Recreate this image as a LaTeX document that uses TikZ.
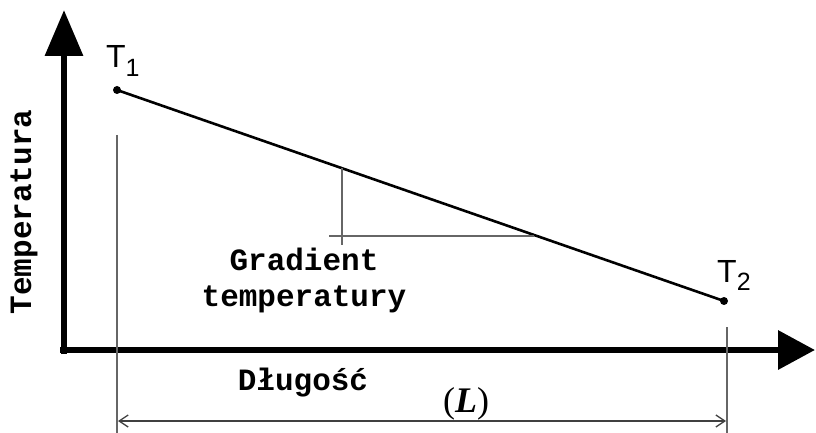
\documentclass[tikz,border=0pt]{standalone}
\usepackage{fontspec}
\setmainfont{Liberation Serif}
\newfontfamily\monofont{Liberation Mono}
\newfontfamily\arialfont{Liberation Sans}
\usetikzlibrary{arrows.meta}
\begin{document}
\begin{tikzpicture}[x=1pt,y=-1pt,
  yaxis/.style={line width=6.5pt,-{Triangle[length=46pt,width=37pt]}},
  xaxis/.style={line width=6.5pt,-{Triangle[length=37pt,width=38pt]}},
  thin gray/.style={draw=black!60,line width=1.4pt},
  mainline/.style={line width=2.6pt},
  dimline/.style={draw=black!75,line width=1.3pt,{Straight Barb[length=9pt,width=12pt]}-{Straight Barb[length=9pt,width=12pt]}},
  lbl/.style={font=\monofont\bfseries\fontsize{31}{36}\selectfont,inner sep=0pt,align=center},
  tlbl/.style={font=\arialfont\fontsize{32}{36}\selectfont,inner sep=0pt,anchor=base west},
  dot/.style={circle,fill=black,inner sep=0pt,minimum size=8pt}]
\useasboundingbox (0,0) rectangle (816,433);
% axes
\coordinate (ytip) at (64,10);
\coordinate (xtip) at (815,350);
\draw[yaxis] (64,354) -- (ytip);
\draw[xaxis] (60,350) -- (xtip);
% points
\node[dot] (t1) at (117,90) {};
\node[dot] (t2) at (724,301) {};
\draw[mainline] (t1.center) -- (t2.center);
% labels T1 T2
\node[tlbl] (t1l) at (106,68) {T\raisebox{-0.5ex}{\fontsize{25}{28}\selectfont 1}};
\node[tlbl] (t2l) at (717,282) {T\raisebox{-0.5ex}{\fontsize{25}{28}\selectfont 2}};
% extension lines
\coordinate (e1a) at (117,135);
\coordinate (e1b) at (117,433);
\coordinate (e2a) at (727,327);
\coordinate (e2b) at (727,433);
\draw[thin gray] (e1a) -- (e1b);
\draw[thin gray] (e2a) -- (e2b);
% gradient triangle
\coordinate (ga) at (342,168);
\coordinate (gb) at (342,245);
\coordinate (gc) at (329,236);
\coordinate (gd) at (534,236);
\draw[thin gray] (ga) -- (gb);
\draw[thin gray] (gc) -- (gd);
% dimension
\coordinate (d1) at (118,421);
\coordinate (d2) at (726,421);
\draw[dimline] (d1) -- (d2);
% texts
\node[lbl] (grad) at (304,280) {Gradient\\temperatury};
\node[lbl] (dl) at (303,383) {Długość};
\node[lbl,rotate=90] (temp) at (24,212) {Temperatura};
\node[font=\fontsize{36}{40}\selectfont,inner sep=0pt] (L) at (466,404) {(\textbf{\textit{L}})};
\end{tikzpicture}
\end{document}
